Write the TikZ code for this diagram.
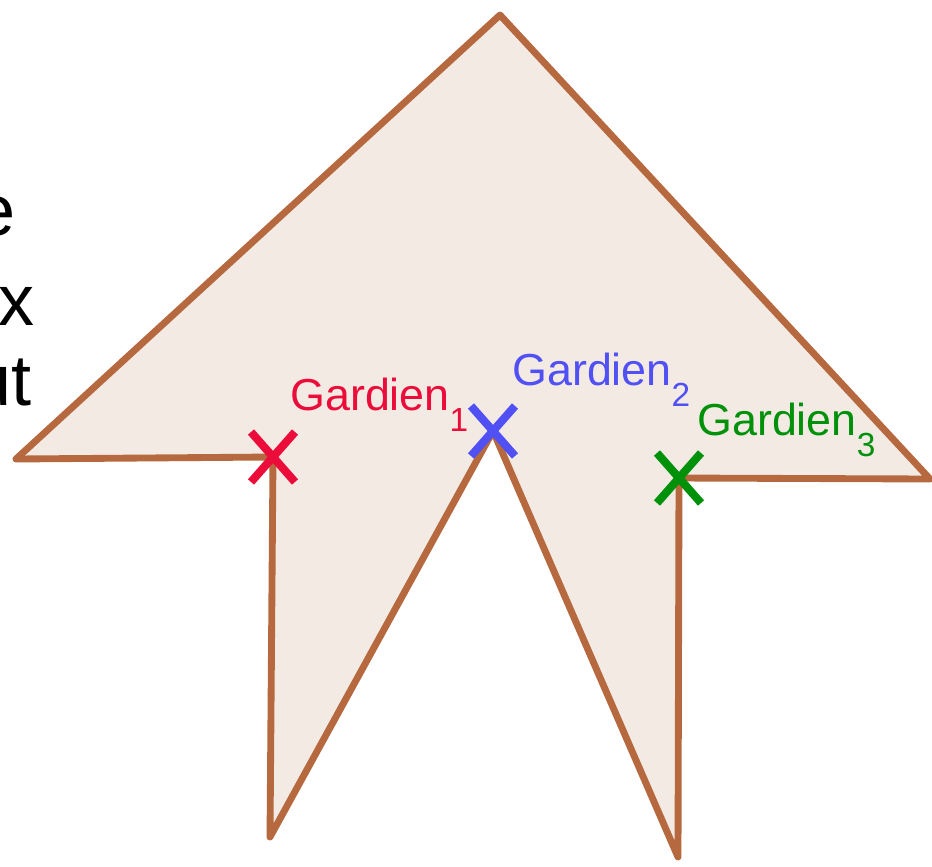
\documentclass[tikz,border=0pt]{standalone}
\usepackage{fontspec}
\setmainfont{Liberation Sans}
\usepackage{tikz}
\definecolor{wallBrown}{RGB}{182,104,62}
\definecolor{floorTint}{RGB}{243,234,228}
\definecolor{guardRed}{RGB}{235,12,58}
\definecolor{guardBlue}{RGB}{80,80,245}
\definecolor{guardGreen}{RGB}{0,145,10}
\newcommand{\gsub}[1]{\raisebox{-12.5pt}{\fontsize{19}{22}\selectfont #1}}

\begin{document}
\begin{tikzpicture}[
      x=0.02cm, y=-0.02cm,
      wall/.style={line width=3.9pt, draw=wallBrown, fill=floorTint, line join=round, line cap=round},
      guard/.style={line width=4.6pt},
      guardLabel/.style={anchor=base west, inner sep=0pt, font=\fontsize{25.5}{30}\selectfont},
      slideText/.style={anchor=base east, inner sep=0pt, font=\fontsize{41}{48}\selectfont}
    ]

    \useasboundingbox (0,0) rectangle (932,866);
    \clip (0,0) rectangle (932,866);

    % -------- sommets du polygone --------
    \coordinate (apex) at (500,15);
    \coordinate (tipR) at (930,479);
    \coordinate (g3) at (679,478);
    \coordinate (footR) at (678,857);
    \coordinate (g2) at (493,431);
    \coordinate (footL) at (270,837);
    \coordinate (g1) at (273,457);
    \coordinate (tipL) at (16,459);

    \draw[wall] (apex) -- (tipR) -- (g3) -- (footR) -- (g2) -- (footL) -- (g1) -- (tipL) -- cycle;

    % -------- gardiens --------
    \foreach \g/\c in {g1/guardRed, g2/guardBlue, g3/guardGreen} {
      \draw[guard, \c] ([shift={(-22,-25)}]\g) -- ([shift={(22,25)}]\g);
      \draw[guard, \c] ([shift={(-22,25)}]\g) -- ([shift={(22,-25)}]\g);
    }

    \node[guardLabel, text=guardRed] (lab1) at (290,410) {Gardien\gsub{1}};
    \node[guardLabel, text=guardBlue] (lab2) at (512,385) {Gardien\gsub{2}};
    \node[guardLabel, text=guardGreen] (lab3) at (697,435) {Gardien\gsub{3}};

    % -------- texte coupé à gauche --------
    \node[slideText] (line1) at (16,235) {e};
    \node[slideText] (line2) at (35,325) {x};
    \node[slideText] (line3) at (32,405) {ut};

\end{tikzpicture}
\end{document}
